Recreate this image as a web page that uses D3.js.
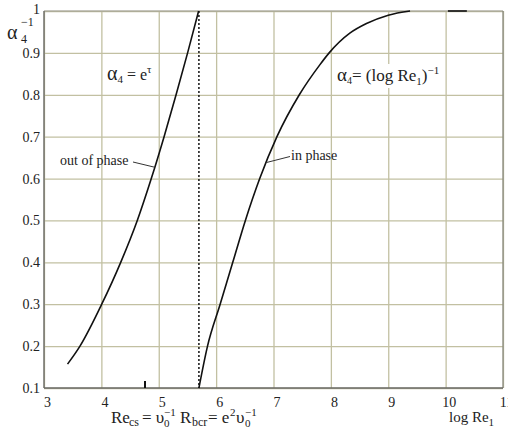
<!DOCTYPE html>
<html>
<head>
<meta charset="utf-8">
<script src="https://cdn.jsdelivr.net/npm/d3@7"></script>
<style>
  body { margin: 0; background: #fff; }
  svg text { font-family: "Liberation Serif", "Times New Roman", serif; fill: #222; }
</style>
</head>
<body>
<div id="chart"></div>
<script>
// data
const xTicks = [3, 4, 5, 6, 7, 8, 9, 10, 11];
const yTicks = [0.1, 0.2, 0.3, 0.4, 0.5, 0.6, 0.7, 0.8, 0.9, 1];
const yTickLabels = ["0.1", "0.2", "0.3", "0.4", "0.5", "0.6", "0.7", "0.8", "0.9", "1"];

// out of phase branch  (alpha4 = e^tau)
const outX = [3.41, 3.627, 4.006, 4.337, 4.626, 4.87, 5.093, 5.302, 5.503, 5.695];
const outY = [0.157, 0.2, 0.3, 0.4, 0.5, 0.6, 0.7, 0.8, 0.9, 1.0];

// in phase branch  (alpha4 = (log Re1)^-1)
const inX = [5.7, 5.85, 6.07, 6.29, 6.51, 6.76, 7.06, 7.45, 7.81, 7.97, 8.33, 8.62, 9.0, 9.38];
const inY = [0.1, 0.2, 0.3, 0.4, 0.5, 0.6, 0.7, 0.8, 0.872, 0.9, 0.947, 0.97, 0.99, 1.0];

// short flat piece on the top edge
const flatX = [10.04, 10.37];
const flatY = [1, 1];

const dashX = 5.7;      // Re_bcr
const markX = 4.76;     // Re_cs tick

const W = 508, H = 429;
const M = {left: 44, top: 11, right: 5, bottom: 41};

const svg = d3.select("#chart").append("svg")
  .attr("width", W)
  .attr("height", H);

const x = d3.scaleLinear().domain([3, 11]).range([M.left, W - M.right]);
const y = d3.scaleLinear().domain([0.1, 1]).range([H - M.bottom, M.top]);

const gridColor = "#c2c0a2";

// grid
svg.append("g")
  .attr("transform", `translate(0,${H - M.bottom})`)
  .call(d3.axisBottom(x).tickValues(xTicks).tickSize(-(H - M.bottom - M.top)).tickFormat(""))
  .call(g => g.select(".domain").remove())
  .call(g => g.selectAll("line").attr("stroke", gridColor).attr("stroke-width", 1.3));

svg.append("g")
  .attr("transform", `translate(${M.left},0)`)
  .call(d3.axisLeft(y).tickValues(yTicks).tickSize(-(W - M.left - M.right)).tickFormat(""))
  .call(g => g.select(".domain").remove())
  .call(g => g.selectAll("line").attr("stroke", gridColor).attr("stroke-width", 1.3));

// frame
svg.append("line")
  .attr("x1", x(3)).attr("x2", x(11)).attr("y1", y(1)).attr("y2", y(1))
  .attr("stroke", "#9a9a90").attr("stroke-width", 1.2);
svg.append("line")
  .attr("x1", x(11)).attr("x2", x(11)).attr("y1", y(1)).attr("y2", y(0.1))
  .attr("stroke", "#8a8a80").attr("stroke-width", 1.3);
svg.append("line")
  .attr("x1", x(3)).attr("x2", x(3)).attr("y1", y(1)).attr("y2", y(0.1))
  .attr("stroke", "#6a6a66").attr("stroke-width", 1.4);
svg.append("line")
  .attr("x1", x(3)).attr("x2", x(11)).attr("y1", y(0.1)).attr("y2", y(0.1))
  .attr("stroke", "#6a6a66").attr("stroke-width", 1.4);

// tick labels
const xAxis = svg.append("g")
  .attr("transform", `translate(0,${H - M.bottom})`)
  .call(d3.axisBottom(x).tickValues(xTicks).tickSize(0).tickFormat(d3.format("d")));
xAxis.select(".domain").remove();
xAxis.selectAll("text")
  .attr("y", 19)
  .attr("dy", 0)
  .attr("dx", 3)
  .style("font-size", "14px")
  .style("font-family", "Liberation Serif, serif")
  .attr("fill", "#333");

const yAxis = svg.append("g")
  .attr("transform", `translate(${M.left},0)`)
  .call(d3.axisLeft(y).tickValues(yTicks).tickSize(0).tickPadding(4)
    .tickFormat((d, i) => yTickLabels[i]));
yAxis.select(".domain").remove();
yAxis.selectAll("text")
  .style("font-size", "14px")
  .style("font-family", "Liberation Serif, serif")
  .attr("fill", "#333");
yAxis.selectAll(".tick").filter(d => d === 1).select("text").attr("dy", "0.2em");

// dotted line at Re_bcr
svg.append("line")
  .attr("x1", x(dashX)).attr("x2", x(dashX))
  .attr("y1", y(1)).attr("y2", y(0.1))
  .attr("stroke", "#111").attr("stroke-width", 1.5)
  .attr("stroke-dasharray", "2,2");

// small tick for Re_cs
svg.append("line")
  .attr("x1", x(markX)).attr("x2", x(markX))
  .attr("y1", y(0.1)).attr("y2", y(0.1) - 7)
  .attr("stroke", "#111").attr("stroke-width", 2);

// curves
const line = d3.line()
  .x(d => x(d[0]))
  .y(d => y(d[1]))
  .curve(d3.curveMonotoneX);

svg.append("path")
  .datum(outX.map((v, i) => [v, outY[i]]))
  .attr("d", line)
  .attr("fill", "none").attr("stroke", "#111").attr("stroke-width", 1.6);

svg.append("path")
  .datum(inX.map((v, i) => [v, inY[i]]))
  .attr("d", line)
  .attr("fill", "none").attr("stroke", "#111").attr("stroke-width", 1.6);

svg.append("path")
  .datum(flatX.map((v, i) => [v, flatY[i]]))
  .attr("d", line)
  .attr("fill", "none").attr("stroke", "#111").attr("stroke-width", 1.6);

// annotations
svg.append("text")
  .attr("x", 60).attr("y", 165)
  .style("font-size", "14px")
  .text("out of phase");
svg.append("line")
  .attr("x1", 133).attr("y1", 162).attr("x2", x(4.93)).attr("y2", y(0.627))
  .attr("stroke", "#333").attr("stroke-width", 1);

svg.append("text")
  .attr("x", 291).attr("y", 160)
  .style("font-size", "14px")
  .text("in phase");
svg.append("line")
  .attr("x1", 290).attr("y1", 156.5).attr("x2", x(6.87)).attr("y2", y(0.638))
  .attr("stroke", "#333").attr("stroke-width", 1);

// alpha4 = e^tau
const t1 = svg.append("text").attr("x", 107).attr("y", 80).style("font-size", "16px");
t1.append("tspan").style("font-size", "20px").text("α");
t1.append("tspan").attr("dy", 3).style("font-size", "11px").text("4");
t1.append("tspan").attr("dy", -3).text(" = e");
t1.append("tspan").attr("dy", -7).style("font-size", "11px").text("τ");

// alpha4 = (log Re1)^-1 with white box
svg.append("rect")
  .attr("x", 335).attr("y", 64).attr("width", 108).attr("height", 24)
  .attr("fill", "#fff");
const t2 = svg.append("text").attr("x", 337).attr("y", 81).style("font-size", "17px");
t2.append("tspan").style("font-size", "19px").text("α");
t2.append("tspan").attr("dy", 3).style("font-size", "10px").text("4");
t2.append("tspan").attr("dy", -3).text("= (log Re");
t2.append("tspan").attr("dy", 4).style("font-size", "11px").text("1");
t2.append("tspan").attr("dy", -4).text(")");
t2.append("tspan").attr("dy", -7).style("font-size", "11px").text("−1");

// y axis title
const yt = svg.append("text").attr("x", 7).attr("y", 39).style("font-size", "20px");
yt.append("tspan").text("α");
svg.append("text").attr("x", 21).attr("y", 26).style("font-size", "12px").text("−1");
svg.append("text").attr("x", 21).attr("y", 43).style("font-size", "12px").text("4");

// x axis title
const xt = svg.append("text").attr("x", 449).attr("y", 422).style("font-size", "15px");
xt.append("tspan").text("log Re");
xt.append("tspan").attr("dy", 4).style("font-size", "11px").text("1");

// bottom formula: Re_cs = v0^-1 R_bcr = e^2 v0^-1
const fs = 17;
const bottom = svg.append("g").style("font-size", fs + "px");
function piece(px, py, txt, size) {
  return bottom.append("text").attr("x", px).attr("y", py)
    .style("font-size", (size || fs) + "px").text(txt);
}
piece(111, 423, "Re");
piece(129, 426, "cs", 12);
piece(142, 423, "= υ");
piece(164, 427, "0", 11);
piece(164, 415.5, "−1", 11);
piece(180, 423, "R");
piece(192, 426, "bcr", 12);
piece(208, 423, "= e");
piece(230, 415.5, "2", 11);
piece(236, 423, "υ");
piece(245, 427, "0", 11);
piece(245, 415.5, "−1", 11);
</script>
</body>
</html>
